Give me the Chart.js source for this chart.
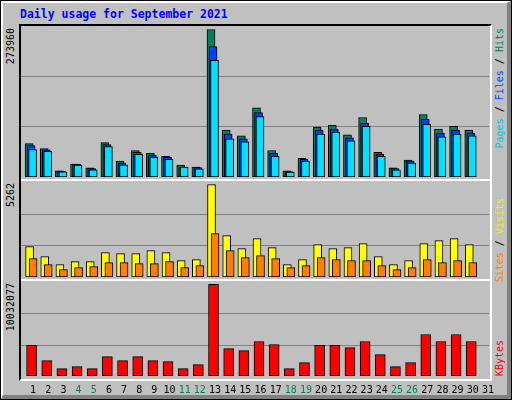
<!DOCTYPE html>
<html>
<head>
<meta charset="utf-8">
<script src="https://cdn.jsdelivr.net/npm/chart.js"></script>
<style>
  body { margin: 0; background: #000; }
  #outer { position: absolute; left: 0; top: 0; width: 512px; height: 400px; background: #000; }
  #inner { position: absolute; left: 1px; top: 1px; width: 504px; height: 392px; background: #C0C0C0;
           border-top: 2px solid #fff; border-left: 2px solid #fff; border-right: 4px solid #808080; border-bottom: 4px solid #808080; }
  #title { position: absolute; left: 20px; top: 7px; font: bold 11.5px "DejaVu Sans Mono", monospace; color: #0000FF; }
  #frame { position: absolute; left: 19px; top: 24px; width: 469px; height: 353px;
           border-top: 2px solid #000; border-left: 2px solid #000; border-right: 2px solid #fff; border-bottom: 2px solid #fff; }
  .sep { position: absolute; left: 21px; width: 469px; height: 2px; background: #fff; }
  canvas { position: absolute; left: 0; }
  .vt { position: absolute; writing-mode: vertical-rl; transform: rotate(180deg); font: 10px "DejaVu Sans Mono", monospace; color: #000; white-space: nowrap; }
</style>
</head>
<body>
<div id="outer"><div id="inner"></div></div>
<div id="title">Daily usage for September 2021</div>
<div id="frame"></div>
<div class="sep" style="top:179px"></div>
<div class="sep" style="top:279px"></div>

<div class="vt" style="left:5px; top:28px;">273960</div>
<div class="vt" style="left:5px; top:183px;">5262</div>
<div class="vt" style="left:5px; top:283px;">10032077</div>

<div class="vt" style="left:494px; top:28px;"><span style="color:#00C8E8">Pages</span> / <span style="color:#0040FF">Files</span> / <span style="color:#00805C">Hits</span></div>
<div class="vt" style="left:494px; top:198px;"><span style="color:#FF8000">Sites</span> / <span style="color:#F0F000">Visits</span></div>
<div class="vt" style="left:494px; top:340px;"><span style="color:#FF0000">KBytes</span></div>

<canvas id="usage" style="top:25px; width:512px; height:155px;"></canvas>
<canvas id="visits" style="top:180px; width:512px; height:100px;"></canvas>
<canvas id="kbytes" style="top:280px; width:512px; height:120px;"></canvas>

<script>
// --- data ---
var days = ['1','2','3','4','5','6','7','8','9','10','11','12','13','14','15','16','17','18','19','20','21','22','23','24','25','26','27','28','29','30','31'];
var weekendDays = ['4','5','11','12','18','19','25','26'];

var hits  = [61900,52900,11400,24000,16800,63700,29400,49300,43900,38500,22200,18600,273960,87100,76300,128600,49300,11400,34800,92500,96100,78100,110500,45700,16800,31200,116000,88900,94300,87100,0];
var files = [58300,50500,10800,23400,15600,60100,25800,45700,40300,36600,18600,17400,242100,79900,70900,119600,43900,10200,33000,87100,88900,72700,99700,42100,15600,29400,106900,81700,87100,81700,0];
var pages = [51100,47500,9600,22200,13200,56500,22200,42100,36600,33000,18600,15000,216900,70900,65500,112300,38500,9000,29400,79900,83500,67300,94300,38500,13200,25800,97900,74500,79900,76300,0];

var visits = [1729,1159,703,874,874,1387,1330,1330,1501,1387,931,988,5262,2356,1615,2185,1672,703,988,1843,1615,1672,1900,1159,703,931,1900,2071,2185,1843,0];
var sites  = [1045,703,418,532,589,817,817,760,760,874,532,646,2470,1501,1102,1216,1045,532,646,1102,988,931,931,646,418,532,988,817,931,817,0];

var kbytes = [3368000,1684000,805000,1025000,805000,2124000,1684000,2124000,1684000,1574000,805000,1245000,10032077,3002000,2783000,3771000,3442000,805000,1465000,3368000,3368000,3112000,3771000,2343000,1025000,1465000,4540000,3771000,4540000,3771000,0];

// shift overlapping bars sideways, Webalizer style
var shiftPlugin = {
  id: 'shift',
  afterDatasetsUpdate: function (chart) {
    chart.data.datasets.forEach(function (ds, i) {
      var meta = chart.getDatasetMeta(i);
      meta.data.forEach(function (el) { el.x += ds.shift || 0; });
    });
  }
};

// grey gridlines across the whole panel
var gridPlugin = {
  id: 'panelGrid',
  beforeDatasetsDraw: function (chart) {
    var y = chart.scales.y, ctx = chart.ctx;
    ctx.save();
    ctx.strokeStyle = '#808080';
    ctx.lineWidth = 1;
    y.ticks.forEach(function (t) {
      if (t.value <= 0 || t.value >= y.max - 1) return;
      var py = Math.round(y.getPixelForValue(t.value)) + 0.5;
      ctx.beginPath();
      ctx.moveTo(21, py);
      ctx.lineTo(489, py);
      ctx.stroke();
    });
    ctx.restore();
  }
};

// day numbers under the bottom panel
var dayLabels = {
  id: 'dayLabels',
  afterDraw: function (chart) {
    if (!chart.options.plugins.dayLabels.show) return;
    var x = chart.scales.x, ctx = chart.ctx;
    ctx.save();
    ctx.font = '10px "DejaVu Sans Mono", monospace';
    ctx.textAlign = 'center';
    ctx.textBaseline = 'alphabetic';
    days.forEach(function (d, i) {
      ctx.fillStyle = weekendDays.indexOf(d) >= 0 ? '#00805C' : '#000000';
      ctx.fillText(d, x.getPixelForValue(i) + 1.5, 113);
    });
    ctx.restore();
  }
};

function bar(data, color, width, shift) {
  return {
    data: data,
    backgroundColor: color,
    borderColor: '#000000',
    borderWidth: 1,
    borderSkipped: false,
    barThickness: width,
    shift: shift
  };
}

function panel(id, datasets, max, padding, showDays) {
  new Chart(document.getElementById(id), {
    type: 'bar',
    data: { labels: days, datasets: datasets },
    options: {
      responsive: false,
      animation: false,
      devicePixelRatio: 1,
      layout: { padding: padding },
      scales: {
        x: { display: false, offset: true, grid: { display: false } },
        y: { display: false, min: 0, max: max, ticks: { stepSize: max / 3 } }
      },
      plugins: {
        legend: { display: false },
        tooltip: { enabled: false },
        dayLabels: { show: showDays }
      },
      datasets: { bar: { grouped: false } }
    },
    plugins: [shiftPlugin, gridPlugin, dayLabels]
  });
}

document.getElementById('usage').width = 512; document.getElementById('usage').height = 155;
document.getElementById('visits').width = 512; document.getElementById('visits').height = 100;
document.getElementById('kbytes').width = 512; document.getElementById('kbytes').height = 120;

panel('usage', [
  bar(pages, '#00E0FF', 8, 1),
  bar(files, '#0040FF', 8, -0.5),
  bar(hits, '#00805C', 8, -2.5)
], 282300, { left: 24, right: 18, top: 0, bottom: 3 }, false);

panel('visits', [
  bar(sites, '#FF8000', 8, 1.5),
  bar(visits, '#FFFF00', 8, -2)
], 5410, { left: 24, right: 18, top: 2, bottom: 3 }, false);

panel('kbytes', [
  bar(kbytes, '#FF0000', 10, 0)
], 10285000, { left: 24, right: 18, top: 2, bottom: 24 }, true);
</script>
</body>
</html>
